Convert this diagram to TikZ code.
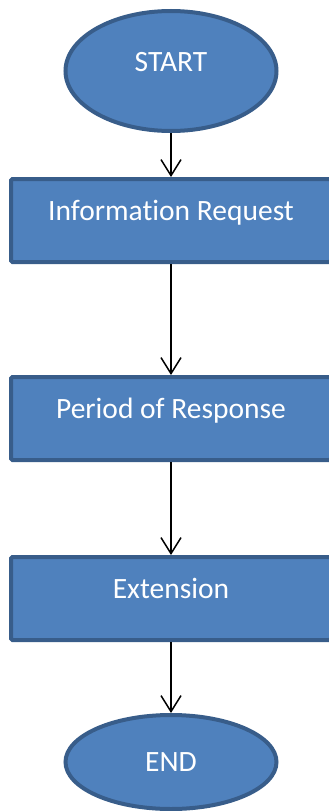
\documentclass[tikz,border=0pt]{standalone}
\usepackage{fontspec}
\setmainfont[Ligatures={NoCommon}]{Carlito}
\usepackage{tikz}
\usetikzlibrary{shapes.geometric,arrows.meta}
\definecolor{boxfill}{HTML}{4F81BD}
\definecolor{boxline}{HTML}{385D8A}

\begin{document}
\begin{tikzpicture}[x=1pt, y=-1pt,
    terminal/.style={ellipse, draw=boxline, fill=boxfill, line width=4pt, inner sep=0pt, minimum width=211pt, text=white, font=\fontsize{29.5}{34}\selectfont},
    stepbox/.style={rectangle, draw=boxline, fill=boxfill, line width=4pt, rounded corners=1.5pt, minimum width=320pt, minimum height=83pt, inner sep=0pt, text=white, text height=12pt, text depth=12pt, font=\fontsize{29.5}{34}\selectfont},
    flow/.style={-{Straight Barb[length=16pt,width=20pt]}, line width=1.5pt}]
        \useasboundingbox (0,0) rectangle (329,811);
        \clip (0,0) rectangle (329,811);
        \node[terminal, minimum height=120pt, text height=12pt, text depth=12pt] (start) at (171,71) {START};
        \node[stepbox] (info) at (171,220.5) {Information Request};
        \node[stepbox] (period) at (171,418.5) {Period of Response};
        \node[stepbox] (ext) at (171,598.5) {Extension};
        \node[terminal, minimum height=94pt] (finish) at (171,762) {END};
        \draw[flow] (start) -- (info);
        \draw[flow] (info) -- (period);
        \draw[flow] (period) -- (ext);
        \draw[flow] (ext) -- (finish);
\end{tikzpicture}
\end{document}
